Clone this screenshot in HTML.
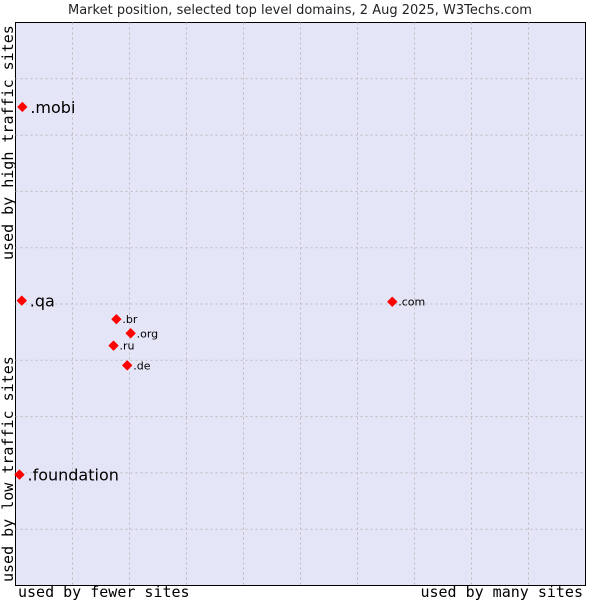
<!DOCTYPE html>
<html><head><meta charset="utf-8"><style>
body{margin:0;background:#fff;}
svg{display:block;font-family:"DejaVu Sans","Liberation Sans",sans-serif;}
</style></head><body>
<svg id="c" width="600" height="600">
<text x="300" y="14" text-anchor="middle" font-size="13" fill="#222">Market position, selected top level domains, 2 Aug 2025, W3Techs.com</text>
<rect x="15.5" y="22.5" width="570" height="563" fill="#e4e6f8" stroke="#000"/>
<g id="grid"></g>
<g id="pts"></g>
<text x="18" y="597" font-family="DejaVu Sans Mono,Liberation Mono,monospace" font-size="15">used by fewer sites</text>
<text x="583" y="597" text-anchor="end" font-family="DejaVu Sans Mono,Liberation Mono,monospace" font-size="15">used by many sites</text>
<text transform="translate(13,260) rotate(-90)" font-family="DejaVu Sans Mono,Liberation Mono,monospace" font-size="15">used by high traffic sites</text>
<text transform="translate(13,582) rotate(-90)" font-family="DejaVu Sans Mono,Liberation Mono,monospace" font-size="15">used by low traffic sites</text>
</svg>
<script>
const names=[".mobi",".qa",".foundation",".com",".br",".org",".ru",".de"];
const xs=[1.2,1.1,0.7,66.1,17.7,20.2,17.2,19.6];
const ys=[85,50.6,19.7,50.4,47.3,44.8,42.6,39.1];
const big=[true,true,true,false,false,false,false,false];
const L=15.5,T=22.5,W=570,H=563;
const sx=v=>L+v/100*W, sy=v=>T+H-v/100*H;
const ns="http://www.w3.org/2000/svg";
const g=document.getElementById('grid'),p=document.getElementById('pts');
for(let i=1;i<10;i++){
 let a=document.createElementNS(ns,'line');
 a.setAttribute('x1',sx(i*10));a.setAttribute('x2',sx(i*10));a.setAttribute('y1',T);a.setAttribute('y2',T+H);
 a.setAttribute('stroke','#bbb');a.setAttribute('stroke-dasharray','2,3');
 
 
 g.appendChild(a);
 let b=document.createElementNS(ns,'line');
 b.setAttribute('y1',sy(i*10));b.setAttribute('y2',sy(i*10));b.setAttribute('x1',L);b.setAttribute('x2',L+W);
 b.setAttribute('stroke','#bbb');b.setAttribute('stroke-dasharray','2,3');
 
 
 g.appendChild(b);
}
names.forEach((n,i)=>{
 const x=sx(xs[i]),y=sy(ys[i]);
 let d=document.createElementNS(ns,'path');
 d.setAttribute('d',`M${x-4.5},${y}L${x},${y-4.5}L${x+4.5},${y}L${x},${y+4.5}Z`);
 d.setAttribute('fill','#f00');
 d.setAttribute('stroke','#f00');
 d.setAttribute('stroke-linejoin','round');
 
 
 p.appendChild(d);
 let t=document.createElementNS(ns,'text');
 t.setAttribute('x',x+(big[i]?8:6));t.setAttribute('y',y+(big[i]?6:4));
 t.setAttribute('font-size',big[i]?16:11);
 t.textContent=n;
 
 
 p.appendChild(t);
});
</script>
</body></html>
